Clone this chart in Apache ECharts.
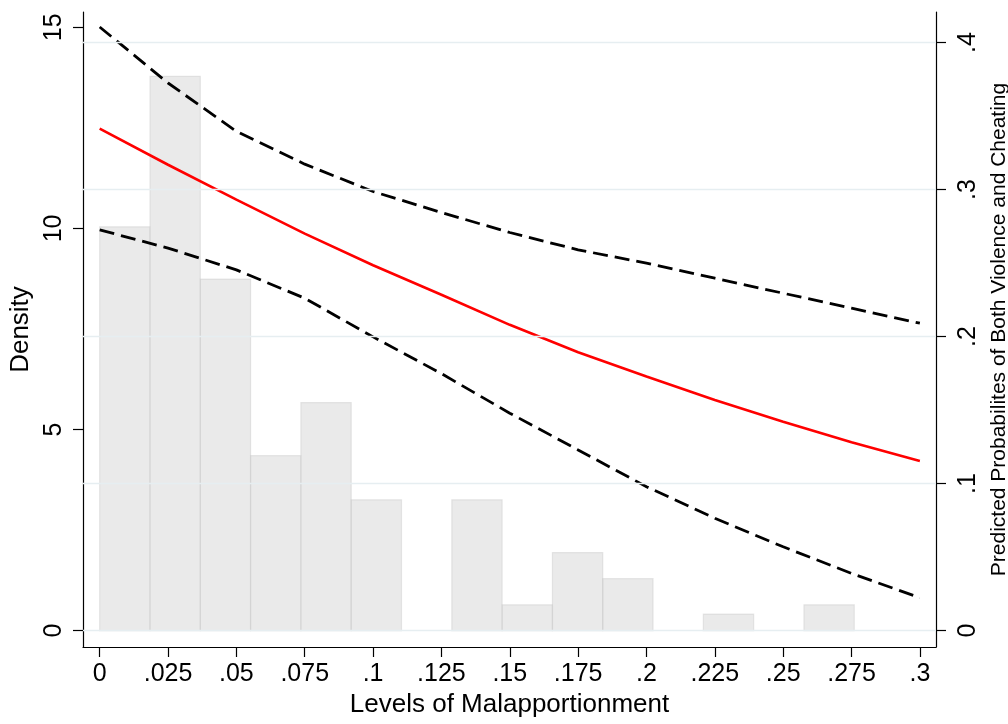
<!DOCTYPE html>
<html>
<head>
<meta charset="utf-8">
<script src="https://cdn.jsdelivr.net/npm/echarts@6/dist/echarts.min.js"></script>
<style>
  html, body { margin: 0; padding: 0; background: #fff; }
  #chart { width: 1008px; height: 724px; }
</style>
</head>
<body>
<div id="chart"></div>
<script>
// Histogram of malapportionment (density, left axis)
const binStart = 0;
const binWidth = 0.0184;
const densities = [10.04, 13.78, 8.74, 4.35, 5.67, 3.25, 0, 3.25, 0.64, 1.94, 1.29, 0, 0.41, 0, 0.64];

// Predicted probabilities with confidence bounds (right axis)
const xLevels   = [0, 0.025, 0.05, 0.075, 0.1, 0.125, 0.15, 0.175, 0.2, 0.225, 0.25, 0.275, 0.3];
const predicted = [0.3414, 0.3169, 0.2932, 0.2700, 0.2485, 0.2285, 0.2080, 0.1893, 0.1728, 0.1569, 0.1421, 0.1281, 0.1154];
const upperCI   = [0.4106, 0.3725, 0.3396, 0.3173, 0.2987, 0.2844, 0.2708, 0.2590, 0.2500, 0.2397, 0.2295, 0.2193, 0.2091];
const lowerCI   = [0.2726, 0.2602, 0.2454, 0.2261, 0.1998, 0.1748, 0.1479, 0.1229, 0.0979, 0.0764, 0.0570, 0.0389, 0.0223];

// Tick values
const xTicks     = [0, 0.025, 0.05, 0.075, 0.1, 0.125, 0.15, 0.175, 0.2, 0.225, 0.25, 0.275, 0.3];
const densTicks  = [0, 5, 10, 15];
const probTicks  = [0, 0.1, 0.2, 0.3, 0.4];

const FONT = "'Liberation Sans', Arial, Helvetica, sans-serif";
const stataNum = v => (v === 0 ? '0' : String(v).replace(/^0\./, '.'));

const histData = densities.map((d, i) => [binStart + i * binWidth, binStart + (i + 1) * binWidth, d]);
const pair = arr => xLevels.map((x, i) => [x, arr[i]]);

const chart = echarts.init(document.getElementById('chart'), null, { renderer: 'canvas' });

chart.setOption({
  animation: false,
  backgroundColor: '#ffffff',
  grid: { left: 83, right: 72, top: 12, bottom: 77, containLabel: false, outerBoundsMode: 'none' },
  xAxis: {
    type: 'value',
    min: -0.0061,
    max: 0.3059,
    name: 'Levels of Malapportionment',
    nameLocation: 'middle',
    nameGap: 45,
    nameTextStyle: { color: '#000', fontFamily: FONT, fontSize: 26 },
    axisLine: { onZero: false, lineStyle: { color: '#000', width: 1.2 } },
    axisTick: { show: true, inside: false, length: 10, customValues: xTicks, lineStyle: { color: '#000', width: 1.2 } },
    axisLabel: { customValues: xTicks, formatter: stataNum, color: '#000', fontFamily: FONT, fontSize: 25, margin: 15 },
    splitLine: { show: false }
  },
  yAxis: [
    {
      type: 'value',
      position: 'left',
      min: -0.408,
      max: 15.38,
      name: 'Density',
      nameLocation: 'middle',
      nameRotate: 90,
      nameGap: 46,
      nameTextStyle: { color: '#000', fontFamily: FONT, fontSize: 26 },
      axisLine: { show: true, onZero: false, lineStyle: { color: '#000', width: 1.2 } },
      axisTick: { show: true, inside: false, length: 10, customValues: densTicks, lineStyle: { color: '#000', width: 1.2 } },
      axisLabel: { customValues: densTicks, rotate: 90, formatter: stataNum, color: '#000', fontFamily: FONT, fontSize: 25, margin: 16 },
      splitLine: { show: false }
    },
    {
      type: 'value',
      position: 'right',
      min: -0.01116,
      max: 0.4208,
      name: 'Predicted Probabilites of Both Violence and Cheating',
      nameLocation: 'middle',
      nameRotate: 90,
      nameGap: 44,
      nameTextStyle: { color: '#000', fontFamily: FONT, fontSize: 21 },
      axisLine: { show: true, onZero: false, lineStyle: { color: '#000', width: 1.2 } },
      axisTick: { show: true, inside: false, length: 10, customValues: probTicks, lineStyle: { color: '#000', width: 1.2 } },
      axisLabel: { customValues: probTicks, rotate: 90, formatter: stataNum, color: '#000', fontFamily: FONT, fontSize: 25, margin: 20 },
      splitLine: { show: false }
    }
  ],
  series: [
    {
      // horizontal grid lines at the probability ticks
      type: 'line',
      yAxisIndex: 1,
      data: [],
      silent: true,
      markLine: {
        silent: true,
        symbol: 'none',
        label: { show: false },
        lineStyle: { color: '#e6eef1', width: 1.3, type: 'solid' },
        data: probTicks.map(v => ({ yAxis: v }))
      }
    },
    {
      name: 'upper',
      type: 'line',
      yAxisIndex: 1,
      data: pair(upperCI),
      showSymbol: false,
      smooth: false,
      lineStyle: { color: '#000', width: 2.8, type: [15, 7] }
    },
    {
      name: 'lower',
      type: 'line',
      yAxisIndex: 1,
      data: pair(lowerCI),
      showSymbol: false,
      smooth: false,
      lineStyle: { color: '#000', width: 2.8, type: [15, 7] }
    },
    {
      name: 'predicted',
      type: 'line',
      yAxisIndex: 1,
      data: pair(predicted),
      showSymbol: false,
      smooth: false,
      lineStyle: { color: '#ff0000', width: 2.6 }
    },
    {
      // translucent histogram drawn over the prediction lines
      name: 'density',
      type: 'custom',
      yAxisIndex: 0,
      data: histData,
      encode: { x: [0, 1], y: 2 },
      renderItem: (params, api) => {
        const h = api.value(2);
        if (!h) return null;
        const p0 = api.coord([api.value(0), h]);
        const p1 = api.coord([api.value(1), 0]);
        return {
          type: 'rect',
          shape: { x: p0[0], y: p0[1], width: p1[0] - p0[0], height: p1[1] - p0[1] },
          style: { fill: 'rgba(204,204,204,0.42)', stroke: 'rgba(200,200,200,0.42)', lineWidth: 1.2 }
        };
      }
    }
  ]
});
</script>
</body>
</html>
